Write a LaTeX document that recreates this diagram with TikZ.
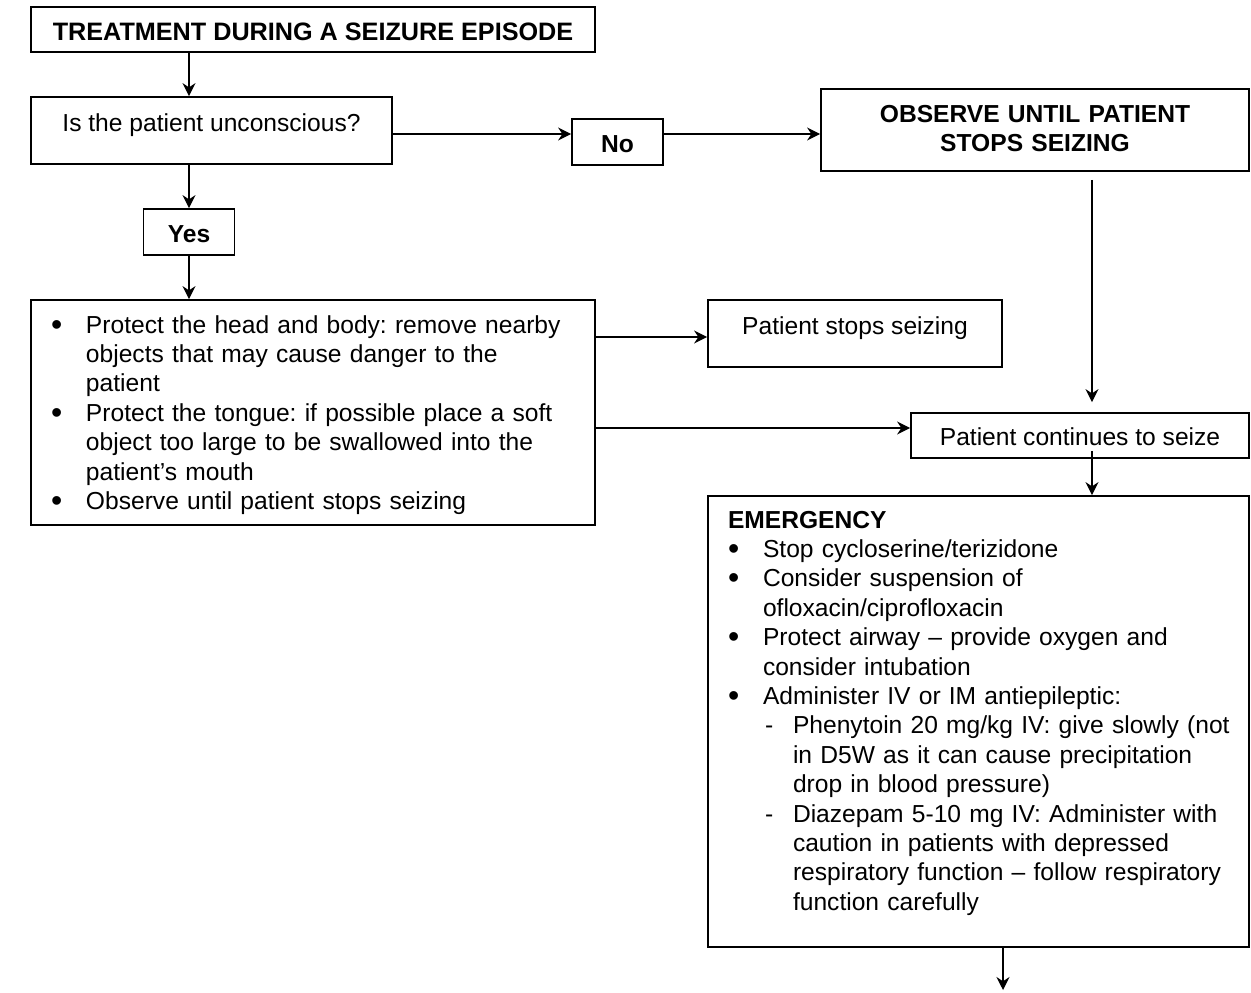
\documentclass[tikz,border=0pt]{standalone}
\usepackage{fontspec}
\setmainfont{Liberation Sans}
\usetikzlibrary{arrows.meta}

%% list items for the boxes with bullets
\newcommand{\bigbullet}{\raisebox{-1pt}{\fontsize{16}{0}\selectfont\textbullet}}
\newcommand{\bitem}[1]{\hangindent=17.5pt\hangafter=1\makebox[17.5pt][l]{\bigbullet}#1\par}
\newcommand{\ditem}[1]{\hangindent=32.5pt\hangafter=1\leavevmode\hspace*{18.5pt}\makebox[14pt][l]{-}#1\par}

\begin{document}
\begin{tikzpicture}
[x=0.5pt, y=-0.5pt,%
  font=\fontsize{12.3}{14.7}\selectfont\frenchspacing,%
  boxDecorate/.style={draw,line width=0.9pt,inner sep=0pt},%
  tagDecorate/.style={boxDecorate,minimum width=45.5pt,text height=16.5pt,text depth=6.5pt},%
  listDecorate/.style={draw,line width=0.9pt,inner sep=0pt,align=left},%
  arrowDecorate/.style={-{Stealth[length=6.5pt,width=6.5pt]},line width=0.7pt}]
\useasboundingbox (0,0) rectangle (1251,992);
%% boxes
\node (title) at (313,29.5) [boxDecorate,minimum width=282pt,text height=16.5pt,text depth=6pt]
  {\fontsize{12.6}{14.7}\selectfont\textbf{TREATMENT DURING A SEIZURE EPISODE}};
\node (ask) at (211.5,130.5) [boxDecorate,minimum width=180.5pt,text height=17pt,text depth=16.5pt]
  {Is the patient unconscious?};
\foreach \nodename/\x/\y/\txt in {no/617.5/142/No, yes/189/232/Yes}
{
  \node (\nodename) at (\x,\y) [tagDecorate] {\textbf{\txt}};
}
\node (observe) at (1035,130) [boxDecorate,text width=214pt,align=center,text height=16.5pt,text depth=24.5pt]
  {\bfseries OBSERVE UNTIL PATIENT\\STOPS SEIZING};
\node (protect) at (313,412.5) [listDecorate,text width=282pt,text height=16.5pt,text depth=96pt]
  {\leftskip=10pt
   \bitem{Protect the head and body: remove nearby\newline objects that may cause danger to the\newline patient}
   \bitem{Protect the tongue: if possible place a soft\newline object too large to be swallowed into the\newline patient’s mouth}
   \bitem{Observe until patient stops seizing}};
\node (stops) at (855,333.5) [boxDecorate,minimum width=147pt,text height=17pt,text depth=16.5pt]
  {Patient stops seizing};
\node (cont) at (1080,435.5) [boxDecorate,minimum width=169pt,text height=16pt,text depth=6.5pt]
  {Patient continues to seize};
\node (emergency) at (978.5,721.5) [listDecorate,text width=270.5pt,text height=16pt,text depth=209.5pt]
  {\leftskip=10pt
   \textbf{EMERGENCY}\par
   \bitem{Stop cycloserine/terizidone}
   \bitem{Consider suspension of\newline ofloxacin/ciprofloxacin}
   \bitem{Protect airway – provide oxygen and\newline consider intubation}
   \bitem{Administer IV or IM antiepileptic:}
   \ditem{Phenytoin 20 mg/kg IV: give slowly (not\newline in D5W as it can cause precipitation\newline drop in blood pressure)}
   \ditem{Diazepam 5-10 mg IV: Administer with\newline caution in patients with depressed\newline respiratory function – follow respiratory\newline function carefully}};
\coordinate (next) at (1003,990);
%% connectors
\path
  (yes |- title.south) edge[arrowDecorate] (yes |- ask.north)
  (yes |- ask.south) edge[arrowDecorate] (yes.north)
  (yes.south) edge[arrowDecorate] (yes |- protect.north)
  ([yshift=-1.75pt]ask.east) edge[arrowDecorate] ([yshift=-1.75pt]ask.east -| no.west)
  ([yshift=-1.75pt]ask.east -| no.east) edge[arrowDecorate] ([yshift=-1.75pt]ask.east -| observe.west)
  ([yshift=-1.75pt]stops.west -| protect.east) edge[arrowDecorate] ([yshift=-1.75pt]stops.west)
  ([yshift=3.75pt]cont.west -| protect.east) edge[arrowDecorate] ([yshift=3.75pt]cont.west)
  ([xshift=6pt]cont.north |- observe.south) edge[arrowDecorate,shorten <=4pt,shorten >=5pt] ([xshift=6pt]cont.north)
  ([xshift=6pt]cont.south) edge[arrowDecorate,shorten <=-4pt] ([xshift=6pt]cont.south |- emergency.north)
  (emergency.south -| next) edge[arrowDecorate] (next);
\end{tikzpicture}
\end{document}
